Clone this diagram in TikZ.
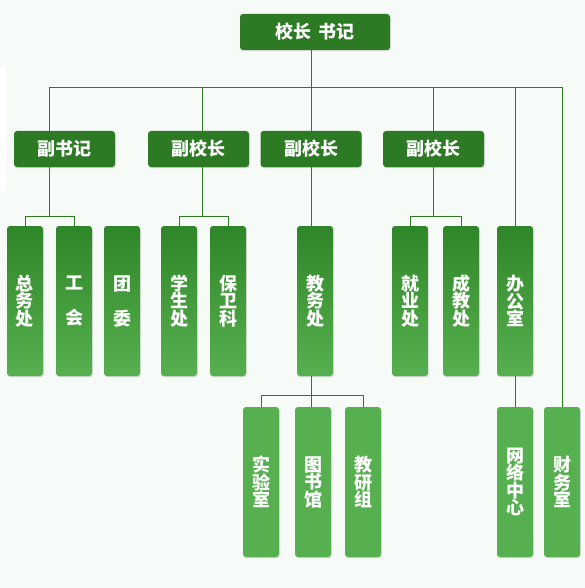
\documentclass[tikz,border=0pt]{standalone}
\usepackage{fontspec}
\newfontfamily\cjk{Noto Sans CJK SC}
\usetikzlibrary{positioning,shadows}
\definecolor{darkleaf}{HTML}{2D7A24}
\definecolor{linegreen}{HTML}{2E7D22}
\definecolor{midleaf}{HTML}{2F8628}
\definecolor{lightleaf}{HTML}{57B050}
\definecolor{paper}{HTML}{F6FBF8}
\tikzset{
  box/.style={rounded corners=3pt,inner sep=0pt,text=white,align=center,
    font=\cjk\bfseries\fontsize{18}{17.5}\selectfont,
    drop shadow={opacity=0.3,shadow xshift=0.6pt,shadow yshift=-1.2pt}},
  headbox/.style={box,fill=darkleaf,minimum width=150pt,minimum height=36pt},
  vicebox/.style={box,fill=darkleaf,minimum width=101pt,minimum height=36pt},
  deptbox/.style={box,top color=midleaf,bottom color=lightleaf,minimum width=36pt,minimum height=150pt},
  unitbox/.style={box,fill=lightleaf,minimum width=36pt,minimum height=150pt},
  link/.style={draw=linegreen,line width=0.9pt}
}
\begin{document}
\begin{tikzpicture}[x=1pt,y=-1pt]
		\fill[paper] (0,0) rectangle (585,588);
		\fill[white] (0,67) rectangle (6,191);
		\useasboundingbox (0,0) rectangle (585,588);
		
		\coordinate (bus) at (0,87);
		\coordinate (fork) at (0,216);
		\coordinate (forkb) at (0,395);
		
		\node[headbox] (head) at (315,32) {校长\hspace{7pt}书记};
		
		\node[vicebox] (fsj) at (64.5,149) {副书记};
		\node[vicebox] (vpa) at (198.5,149) {副校长};
		\node[vicebox] (vpb) at (311,149) {副校长};
		\node[vicebox] (vpc) at (433.5,149) {副校长};
		
		\node[deptbox] (zwc) at (25,301) {总\\务\\处};
		\node[deptbox] (gh) at (74,301) {工\\[17.5pt]会};
		\node[deptbox] (tw) at (122,301) {团\\[17.5pt]委};
		\node[deptbox] (xsc) at (179,301) {学\\生\\处};
		\node[deptbox] (bwk) at (228,301) {保\\卫\\科};
		\node[deptbox] (jwc) at (315,301) {教\\务\\处};
		\node[deptbox] (jyc) at (410,301) {就\\业\\处};
		\node[deptbox] (cjc) at (461,301) {成\\教\\处};
		\node[deptbox] (bgs) at (515,301) {办\\公\\室};
		
		\node[unitbox] (syz) at (261,482) {实\\验\\室};
		\node[unitbox] (tsg) at (313,482) {图\\书\\馆};
		\node[unitbox] (jyz) at (363,482) {教\\研\\组};
		\node[unitbox] (wlzx) at (515,482) {网\\络\\中\\心};
		\node[unitbox] (cws) at (562,482) {财\\务\\室};
		
		% top level bus
		\draw[link] ([xshift=-4pt]head.south) -- ([xshift=-4pt]head.south |- vpb.north);
		\draw[link] ([xshift=-15.5pt]fsj.north) |- (cws.north |- bus) -- (cws.north);
		\draw[link] ([xshift=3.5pt]vpa.north) -- ([xshift=3.5pt]vpa.north |- bus);
		\draw[link] (vpc.north) -- (vpc.north |- bus);
		\draw[link] (bgs.north |- bus) -- (bgs.north);
		
		% forks below the deputies
		\draw[link] ([xshift=-15.5pt]fsj.south) -- ([xshift=-15.5pt]fsj.south |- fork);
		\draw[link] (zwc.north) |- (gh.north |- fork) -- (gh.north);
		\draw[link] ([xshift=3.5pt]vpa.south) -- ([xshift=3.5pt]vpa.south |- fork);
		\draw[link] (xsc.north) |- (bwk.north |- fork) -- (bwk.north);
		\draw[link] (vpb.south) -- (vpb.south |- jwc.north);
		\draw[link] (vpc.south) -- (vpc.south |- fork);
		\draw[link] (jyc.north) |- (cjc.north |- fork) -- (cjc.north);
		
		% lowest row
		\draw[link] (jwc.south -| vpb.south) -- (tsg.north -| vpb.south);
		\draw[link] (syz.north) |- (jyz.north |- forkb) -- (jyz.north);
		\draw[link] (bgs.south) -- (wlzx.north);
	\end{tikzpicture}
\end{document}
